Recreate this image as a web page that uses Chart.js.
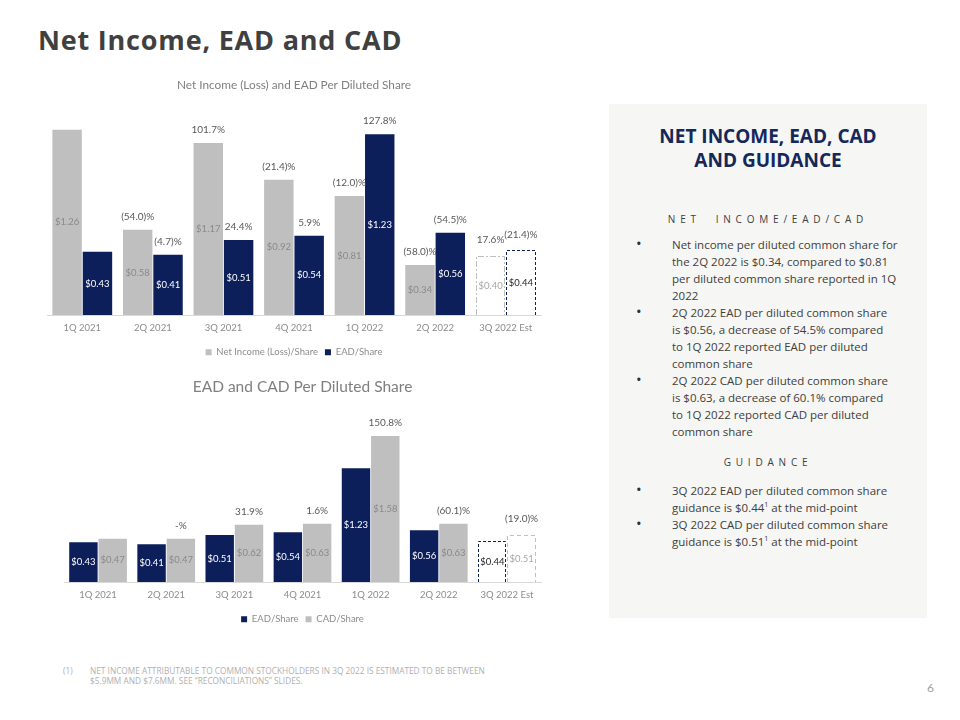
<!DOCTYPE html>
<html>
<head>
<meta charset="utf-8">
<script src="https://cdn.jsdelivr.net/npm/chart.js@4"></script>
<style>
  body { margin: 0; width: 960px; height: 720px; background: #fff; font-family: Lato, "Open Sans", sans-serif; position: relative; overflow: hidden; }
  .page-title { position: absolute; left: 38px; top: 21px; font-family: "Open Sans", sans-serif; font-weight: 700; font-size: 27px; letter-spacing: 0.8px; color: #404040; }
  .chart-box { position: absolute; left: 30px; width: 530px; }
  .panel { position: absolute; left: 609px; top: 104px; width: 318px; height: 514px; background: #f6f6f4; }
  .panel h2 { margin: 20px 0 0; text-align: center; font-family: "Open Sans", sans-serif; font-weight: 700; font-size: 19px; line-height: 24px; color: #14285a; }
  .panel .sub { text-align: center; font-size: 10px; letter-spacing: 4.8px; color: #404040; font-family: "Open Sans", sans-serif; }
  .panel ul { list-style: none; margin: 0; padding: 0; }
  .panel li { position: relative; padding-left: 63px; font-family: "Open Sans", sans-serif; font-size: 11.5px; line-height: 17px; color: #404040; }
  .panel li::before { content: "\2022"; position: absolute; left: 27px; top: -1px; font-size: 15px; color: #303030; }
  .panel sup { font-size: 7px; line-height: 0; }
  .footnote { position: absolute; left: 63px; top: 666px; font-family: "Open Sans", sans-serif; font-size: 8.3px; line-height: 10px; color: #b0b0b0; text-transform: uppercase; }
  .footnote span { position: absolute; left: 27px; width: 520px; }
  .page-num { position: absolute; left: 927px; top: 680px; font-size: 12px; color: #a0a0a0; }
</style>
</head>
<body>
<div class="page-title">Net Income, EAD and CAD</div>

<div class="chart-box" style="top:70px;height:297px;"><canvas id="niChart"></canvas></div>
<div class="chart-box" style="top:372px;height:262px;"><canvas id="cadChart"></canvas></div>

<div class="panel">
  <h2>NET INCOME, EAD, CAD<br>AND GUIDANCE</h2>
  <div class="sub" style="margin-top:40px;">NET&nbsp; INCOME/EAD/CAD</div>
  <ul style="margin-top:10px;">
    <li>Net income per diluted common share for<br>the 2Q 2022 is $0.34, compared to $0.81<br>per diluted common share reported in 1Q<br>2022</li>
    <li>2Q 2022 EAD per diluted common share<br>is $0.56, a decrease of 54.5% compared<br>to 1Q 2022 reported EAD per diluted<br>common share</li>
    <li>2Q 2022 CAD per diluted common share<br>is $0.63, a decrease of 60.1% compared<br>to 1Q 2022 reported CAD per diluted<br>common share</li>
  </ul>
  <div class="sub" style="margin-top:15px;">GUIDANCE</div>
  <ul style="margin-top:13px;">
    <li>3Q 2022 EAD per diluted common share<br>guidance is $0.44<sup>1</sup> at the mid-point</li>
    <li>3Q 2022 CAD per diluted common share<br>guidance is $0.51<sup>1</sup> at the mid-point</li>
  </ul>
</div>

<div class="footnote">(1)<span>Net income attributable to common stockholders in 3Q 2022 is estimated to be between<br>$5.9MM and $7.6MM. See “Reconciliations” slides.</span></div>
<div class="page-num">6</div>

<script>
const quarters = ["1Q 2021", "2Q 2021", "3Q 2021", "4Q 2021", "1Q 2022", "2Q 2022", "3Q 2022 Est"];
const netIncomePerShare = [1.26, 0.58, 1.17, 0.92, 0.81, 0.34, 0.40];
const eadPerShare = [0.43, 0.41, 0.51, 0.54, 1.23, 0.56, 0.44];
const cadPerShare = [0.47, 0.47, 0.62, 0.63, 1.58, 0.63, 0.51];
const netIncomeChange = [null, "(54.0)%", "101.7%", "(21.4)%", "(12.0)%", "(58.0)%", "17.6%"];
const eadChange = [null, "(4.7)%", "24.4%", "5.9%", "127.8%", "(54.5)%", "(21.4)%"];
const cadChange = [null, "-%", "31.9%", "1.6%", "150.8%", "(60.1)%", "(19.0)%"];

const NAVY = "#0c1f5b";
const GRAY = "#bfbfbf";
const LAST = quarters.length - 1;

function colorsWithEstimate(color) {
  return quarters.map((q, i) => (i === LAST ? "rgba(255,255,255,0)" : color));
}

// draws $ values inside bars, % changes above, dashed outline on the estimate bar
const barLabels = {
  id: "barLabels",
  afterDatasetsDraw(chart) {
    const ctx = chart.ctx;
    ctx.save();
    chart.data.datasets.forEach((ds, di) => {
      const meta = chart.getDatasetMeta(di);
      meta.data.forEach((bar, i) => {
        const v = ds.data[i];
        const isEst = i === LAST;
        if (isEst) {
          ctx.save();
          ctx.strokeStyle = ds.estBorder;
          ctx.lineWidth = 1;
          ctx.setLineDash(ds.estDash);
          const left = Math.round(bar.x - bar.width / 2) + 0.5;
          const right = Math.round(bar.x + bar.width / 2) - 0.5;
          const top = Math.round(bar.y) + 0.5;
          const bottom = Math.round(bar.base);
          ctx.beginPath();
          ctx.moveTo(left, bottom);
          ctx.lineTo(left, top);
          ctx.lineTo(right, top);
          ctx.lineTo(right, bottom);
          ctx.stroke();
          ctx.restore();
        }
        ctx.textAlign = "center";
        ctx.textBaseline = "middle";
        ctx.font = "9.5px Lato, sans-serif";
        ctx.fillStyle = isEst ? ds.estValueColor : ds.valueColor;
        ctx.fillText("$" + v.toFixed(2), bar.x, (bar.y + bar.base) / 2);
        const chg = ds.changes[i];
        if (chg) {
          ctx.font = "10px Lato, sans-serif";
          ctx.fillStyle = "#595959";
          ctx.fillText(chg, bar.x, bar.y - (isEst ? 16 : 13));
        }
      });
    });
    ctx.restore();
  }
};

function baseOptions(titleText, titleSize, titlePadding, yMax, padLeft) {
  return {
    responsive: true,
    maintainAspectRatio: false,
    animation: false,
    layout: { padding: { left: padLeft, right: 19 } },
    plugins: {
      title: {
        display: true,
        text: titleText,
        color: "#7f7f7f",
        font: { family: "Lato", size: titleSize, weight: "normal" },
        padding: titlePadding,
      },
      legend: {
        position: "bottom",
        labels: {
          color: "#8c8c8c",
          font: { family: "Lato", size: 9.5 },
          boxWidth: 6,
          boxHeight: 6,
          padding: 7,
        },
      },
      tooltip: { enabled: false },
    },
    scales: {
      x: {
        grid: { display: false, drawTicks: false },
        border: { display: true, color: "#d9d9d9" },
        ticks: { color: "#8c8c8c", font: { family: "Lato", size: 9.5 }, padding: 7 },
      },
      y: { display: false, min: 0, max: yMax },
    },
  };
}

new Chart(document.getElementById("niChart"), {
  type: "bar",
  data: {
    labels: quarters,
    datasets: [
      {
        label: "Net Income (Loss)/Share",
        data: netIncomePerShare,
        backgroundColor: colorsWithEstimate(GRAY),
        changes: netIncomeChange,
        valueColor: "#8a8a8a",
        estValueColor: "#a6a6a6",
        estBorder: "#bfbfbf",
        estDash: [6, 2, 2, 2],
        categoryPercentage: 0.86,
        barPercentage: 0.97,
      },
      {
        label: "EAD/Share",
        data: eadPerShare,
        backgroundColor: colorsWithEstimate(NAVY),
        changes: eadChange,
        valueColor: "#ffffff",
        estValueColor: "#262626",
        estBorder: "#0c1f5b",
        estDash: [3, 2],
        categoryPercentage: 0.86,
        barPercentage: 0.97,
      },
    ],
  },
  options: baseOptions("Net Income (Loss) and EAD Per Diluted Share", 11.8, { top: 8, bottom: 17 }, 1.4, 17),
  plugins: [barLabels],
});

new Chart(document.getElementById("cadChart"), {
  type: "bar",
  data: {
    labels: quarters,
    datasets: [
      {
        label: "EAD/Share",
        data: eadPerShare,
        backgroundColor: colorsWithEstimate(NAVY),
        changes: quarters.map(() => null),
        valueColor: "#ffffff",
        estValueColor: "#262626",
        estBorder: "#0c1f5b",
        estDash: [3, 2],
        categoryPercentage: 0.86,
        barPercentage: 0.97,
      },
      {
        label: "CAD/Share",
        data: cadPerShare,
        backgroundColor: colorsWithEstimate(GRAY),
        changes: cadChange,
        valueColor: "#8a8a8a",
        estValueColor: "#a6a6a6",
        estBorder: "#bfbfbf",
        estDash: [4, 3],
        categoryPercentage: 0.86,
        barPercentage: 0.97,
      },
    ],
  },
  options: baseOptions("EAD and CAD Per Diluted Share", 15.5, { top: 6, bottom: 19 }, 1.8, 34),
  plugins: [barLabels],
});
</script>
</body>
</html>
